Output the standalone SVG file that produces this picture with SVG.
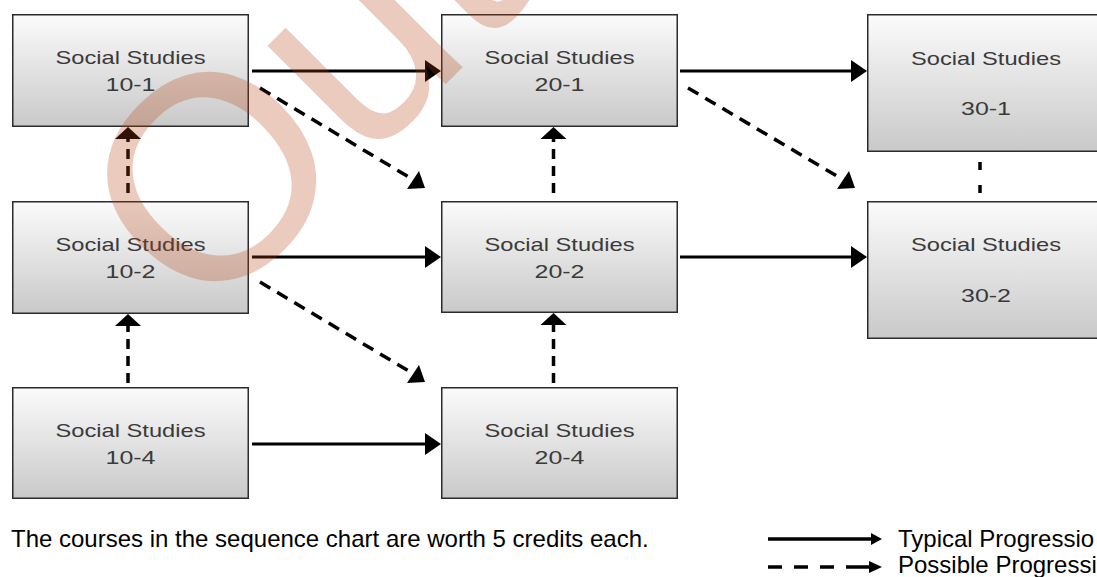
<svg xmlns="http://www.w3.org/2000/svg" width="1097" height="577" viewBox="0 0 1097 577">
<style>
.box{fill:url(#g);stroke:#2b2b2b;stroke-width:1.5}
.lbl{font-family:"Liberation Sans",Arial,sans-serif;font-size:19px;fill:#3a3a3a;text-anchor:middle}
.solid{stroke:#000;stroke-width:3;fill:none}
.dash{stroke:#000;stroke-width:3.5;stroke-dasharray:10 7;fill:none}
.ddash{stroke:#000;stroke-width:3.5;stroke-dasharray:12 8;fill:none}
.head{fill:#000}
.note{font-family:"Liberation Sans",Arial,sans-serif;font-size:24px;fill:#000}
.wm{font-family:"Liberation Sans",Arial,sans-serif;font-size:290px;fill:#b04010;fill-opacity:0.27}
</style>
<defs>
<linearGradient id="g" x1="0" y1="0" x2="0" y2="1">
<stop offset="0" stop-color="#fbfbfb"/>
<stop offset="1" stop-color="#c9c9c9"/>
</linearGradient>
</defs>
<rect width="1097" height="577" fill="#fff"/>

<g id="connectors">
<!-- solid typical progressions -->
<line class="solid" x1="252" y1="71" x2="427" y2="71"/>
<polygon class="head" points="425,60 441,71 425,82"/>
<line class="solid" x1="680" y1="71" x2="853" y2="71"/>
<polygon class="head" points="851,60 867,71 851,82"/>
<line class="solid" x1="252" y1="257" x2="427" y2="257"/>
<polygon class="head" points="425,246 441,257 425,268"/>
<line class="solid" x1="680" y1="257" x2="853" y2="257"/>
<polygon class="head" points="851,246 867,257 851,268"/>
<line class="solid" x1="252" y1="444" x2="427" y2="444"/>
<polygon class="head" points="425,433 441,444 425,455"/>
<!-- vertical dashed (upward) -->
<line class="dash" x1="128" y1="193" x2="128" y2="139"/>
<polygon class="head" points="115,139 128,127 141,139"/>
<line class="dash" x1="128" y1="383" x2="128" y2="326"/>
<polygon class="head" points="115,326 128,314 141,326"/>
<line class="dash" x1="553.5" y1="193" x2="553.5" y2="139"/>
<polygon class="head" points="540.5,139 553.5,127 566.5,139"/>
<line class="dash" x1="553.5" y1="383" x2="553.5" y2="325"/>
<polygon class="head" points="540.5,325 553.5,313 566.5,325"/>
<path class="solid" d="M980 162v8M980 185v8" style="stroke-width:3.5"/>
<!-- diagonal dashed -->
<line class="ddash" x1="260" y1="88" x2="412" y2="179"/>
<polygon class="head" points="407,189 419,171 425,188"/>
<line class="ddash" x1="688" y1="88" x2="842" y2="179"/>
<polygon class="head" points="837,189 849,171 855,188"/>
<line class="ddash" x1="260" y1="282" x2="412" y2="373"/>
<polygon class="head" points="407,383 419,365 425,382"/>
</g>

<g id="n101"><rect class="box" x="12.75" y="14.75" width="235.5" height="111.5"/>
<text class="lbl" x="130.5" y="64" textLength="150" lengthAdjust="spacingAndGlyphs">Social Studies</text>
<text class="lbl" x="130.5" y="91" textLength="50" lengthAdjust="spacingAndGlyphs">10-1</text></g>
<g id="n102"><rect class="box" x="12.75" y="201.75" width="235.5" height="111.5"/>
<text class="lbl" x="130.5" y="251" textLength="150" lengthAdjust="spacingAndGlyphs">Social Studies</text>
<text class="lbl" x="130.5" y="278" textLength="50" lengthAdjust="spacingAndGlyphs">10-2</text></g>
<g id="n104"><rect class="box" x="12.75" y="387.75" width="235.5" height="110.5"/>
<text class="lbl" x="130.5" y="437" textLength="150" lengthAdjust="spacingAndGlyphs">Social Studies</text>
<text class="lbl" x="130.5" y="464" textLength="50" lengthAdjust="spacingAndGlyphs">10-4</text></g>
<g id="n201"><rect class="box" x="441.75" y="14.75" width="235.5" height="111.5"/>
<text class="lbl" x="559.5" y="64" textLength="150" lengthAdjust="spacingAndGlyphs">Social Studies</text>
<text class="lbl" x="559.5" y="91" textLength="50" lengthAdjust="spacingAndGlyphs">20-1</text></g>
<g id="n202"><rect class="box" x="441.75" y="201.75" width="235.5" height="110.5"/>
<text class="lbl" x="559.5" y="251" textLength="150" lengthAdjust="spacingAndGlyphs">Social Studies</text>
<text class="lbl" x="559.5" y="278" textLength="50" lengthAdjust="spacingAndGlyphs">20-2</text></g>
<g id="n204"><rect class="box" x="441.75" y="387.75" width="235.5" height="110.5"/>
<text class="lbl" x="559.5" y="437" textLength="150" lengthAdjust="spacingAndGlyphs">Social Studies</text>
<text class="lbl" x="559.5" y="464" textLength="50" lengthAdjust="spacingAndGlyphs">20-4</text></g>
<g id="n301"><rect class="box" x="867.75" y="14.75" width="235.5" height="136.5"/>
<text class="lbl" x="986" y="65" textLength="150" lengthAdjust="spacingAndGlyphs">Social Studies</text>
<text class="lbl" x="986" y="115" textLength="50" lengthAdjust="spacingAndGlyphs">30-1</text></g>
<g id="n302"><rect class="box" x="867.75" y="201.75" width="235.5" height="136.5"/>
<text class="lbl" x="986" y="251" textLength="150" lengthAdjust="spacingAndGlyphs">Social Studies</text>
<text class="lbl" x="986" y="302" textLength="50" lengthAdjust="spacingAndGlyphs">30-2</text></g>

<g id="footer">
<text class="note" x="11" y="547">The courses in the sequence chart are worth 5 credits each.</text>
</g>

<g id="legend">
<line x1="768" y1="539" x2="873" y2="539" stroke="#000" stroke-width="3.5"/>
<polygon class="head" points="871,533 882,539 871,545"/>
<path d="M768 567h14M794 567h14M820 567h14M846 567h26" stroke="#000" stroke-width="3.5" fill="none"/>
<polygon class="head" points="869,561 882,567 869,573"/>
<text class="note" x="898" y="547">Typical Progressio</text>
<text class="note" x="898" y="573">Possible Progressi</text>
</g>

<g id="watermark">
<text class="wm" transform="translate(203,327) rotate(-45)">Out</text>
</g>
</svg>
